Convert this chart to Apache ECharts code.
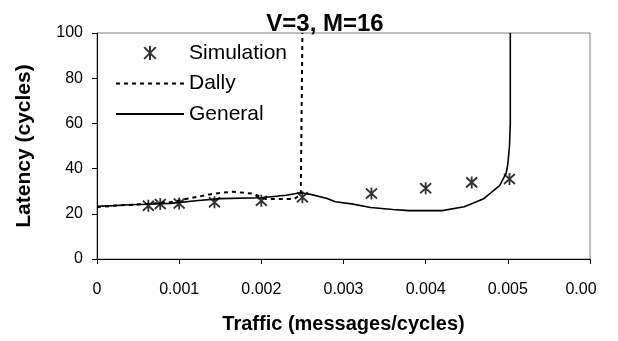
<!DOCTYPE html>
<html>
<head>
<meta charset="utf-8">
<script src="https://cdn.jsdelivr.net/npm/echarts@6/dist/echarts.min.js"></script>
<style>html,body{margin:0;padding:0;background:#fff;}#c{width:618px;height:341px;}</style>
</head>
<body>
<div id="c"></div>
<script>
const titleText = 'V=3, M=16';
const xName = 'Traffic (messages/cycles)';
const yName = 'Latency (cycles)';
const seriesNames = ['Simulation', 'Dally', 'General'];

const simX = [0.000625, 0.00077, 0.001, 0.00143, 0.002, 0.0025, 0.00334, 0.004, 0.00456, 0.00502];
const simY = [23.6, 24.3, 24.6, 25.1, 25.8, 27.3, 29.0, 31.3, 33.9, 35.4];

const dallyX = [0, 0.0003, 0.0006, 0.0009, 0.00115, 0.0014, 0.00165, 0.0019, 0.00205, 0.0024, 0.00248, 0.0025, 0.0025];
const dallyY = [23.0, 23.8, 24.3, 25.2, 27.0, 28.8, 29.8, 28.9, 26.6, 26.6, 28.5, 28.8, 100];

const generalX = [0, 0.0002, 0.0004, 0.0006, 0.0009, 0.0012, 0.0015, 0.002, 0.0023, 0.00248, 0.0026, 0.0028, 0.0029, 0.0031, 0.00333, 0.0036, 0.0038, 0.0042, 0.00447, 0.0047, 0.0049, 0.00498, 0.005, 0.00502, 0.00503, 0.00503];
const generalY = [23.3, 23.6, 24.0, 24.2, 24.6, 25.8, 26.7, 27.1, 28.2, 29.3, 28.6, 26.8, 25.3, 24.4, 22.8, 21.9, 21.4, 21.4, 23.1, 26.5, 32.5, 38.0, 42.0, 50.0, 60.0, 100];

const xTicks = ['0', '0.001', '0.002', '0.003', '0.004', '0.005', '0.00'];
const yTicks = ['0', '20', '40', '60', '80', '100'];

const zip = (a, b) => a.map((v, i) => [v, b[i]]);
const starPath = 'path://M6,0L6,12M1,1L11,11M1,11L11,1';

const chart = echarts.init(document.getElementById('c'), null, {renderer: 'canvas'});
chart.setOption({
  animation: false,
  backgroundColor: '#fff',
  title: {
    text: titleText, left: 320, top: 7, textAlign: 'center',
    textStyle: {fontFamily: 'Liberation Sans', fontWeight: 'bold', fontSize: 24, color: '#000'}
  },
  grid: {left: 97, right: 28, top: 33, bottom: 82, show: true, borderColor: '#808080', borderWidth: 1, backgroundColor: 'transparent'},
  legend: {
    orient: 'vertical', left: 110, top: 37,
    itemWidth: 68, itemHeight: 14, itemGap: 8.5,
    data: [
      {name: seriesNames[0]},
      {name: seriesNames[1], itemStyle: {opacity: 0}},
      {name: seriesNames[2], itemStyle: {opacity: 0}}
    ],
    textStyle: {fontFamily: 'Liberation Sans', fontSize: 21, color: '#000', lineHeight: 22}
  },
  xAxis: {
    type: 'value', min: 0, max: 0.006, interval: 0.001,
    name: xName, nameLocation: 'middle', nameGap: 55,
    nameTextStyle: {fontFamily: 'Liberation Sans', fontWeight: 'bold', fontSize: 20, color: '#000'},
    axisLine: {show: true, onZero: false, lineStyle: {color: '#000', width: 1}},
    axisTick: {show: true, length: 5, lineStyle: {color: '#000'}},
    splitLine: {show: false},
    axisLabel: {
      margin: 23, fontFamily: 'Liberation Sans', fontSize: 16, color: '#000',
      formatter: function (v) {
        const i = Math.round(v * 1000);
        if (i === 6) return '{c|' + xTicks[i] + '}';
        return xTicks[i];
      },
      rich: {c: {fontFamily: 'Liberation Sans', fontSize: 16, color: '#000', padding: [0, 18, 0, 0]}}
    }
  },
  yAxis: {
    type: 'value', min: 0, max: 100, interval: 20,
    name: yName, nameLocation: 'middle', nameGap: 62, nameRotate: 90,
    nameTextStyle: {fontFamily: 'Liberation Sans', fontWeight: 'bold', fontSize: 21, color: '#000'},
    axisLine: {show: true, onZero: false, lineStyle: {color: '#000', width: 1}},
    axisTick: {show: true, length: 5, lineStyle: {color: '#000'}},
    splitLine: {show: false},
    axisLabel: {
      margin: 14, fontFamily: 'Liberation Sans', fontSize: 16, color: '#000',
      formatter: function (v) { return yTicks[Math.round(v / 20)]; }
    }
  },
  series: [
    {
      name: seriesNames[0], type: 'scatter', data: zip(simX, simY),
      symbol: starPath, symbolSize: [11, 12], z: 5,
      itemStyle: {color: 'rgba(0,0,0,0)', borderColor: '#000', borderWidth: 1.9}
    },
    {
      name: seriesNames[1], type: 'line', data: zip(dallyX, dallyY),
      symbol: 'none', showSymbol: false, z: 3,
      lineStyle: {color: '#000', width: 2, type: [4, 4]},
      itemStyle: {color: '#000'}
    },
    {
      name: seriesNames[2], type: 'line', data: zip(generalX, generalY),
      symbol: 'none', showSymbol: false, z: 4,
      lineStyle: {color: '#000', width: 1.6},
      itemStyle: {color: '#000'}
    }
  ]
});
</script>
</body>
</html>
